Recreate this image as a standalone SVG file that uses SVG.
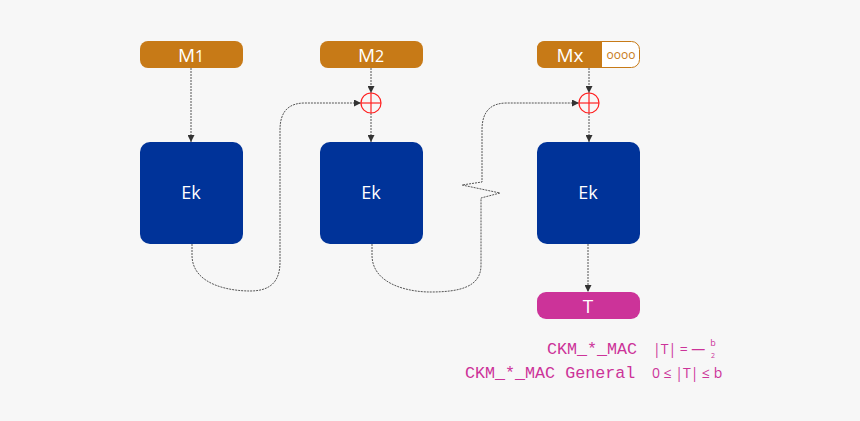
<svg xmlns="http://www.w3.org/2000/svg" width="860" height="421" viewBox="0 0 860 421">
<defs>
<marker id="ah" viewBox="0 0 10 10" refX="10" refY="5" markerWidth="7" markerHeight="7" orient="auto" markerUnits="userSpaceOnUse">
<path d="M0,0 L10,5 L0,10 z" fill="#333"/>
</marker>
<style>
.msg{fill:#C77A17}
.ek{fill:#003399}
.lbl{font-family:"Open Sans","Noto Sans",sans-serif;fill:#fff;text-anchor:middle}
.con{fill:none;stroke:#555;stroke-width:1;stroke-dasharray:2,1}
.xor{fill:none;stroke:#ff2020;stroke-width:1.2}
.mono{font-family:"Liberation Mono",monospace;font-size:16.7px;fill:#CC3399}
.math{font-family:"Open Sans","Noto Sans",sans-serif;fill:#CC3399}
</style>
</defs>
<rect width="860" height="421" fill="#f7f7f7"/>
<g id="connectors">
<line class="con" x1="191" y1="68" x2="191" y2="142" marker-end="url(#ah)"/>
<line class="con" x1="371" y1="68" x2="371" y2="93" marker-end="url(#ah)"/>
<line class="con" x1="371" y1="113" x2="371" y2="142" marker-end="url(#ah)"/>
<line class="con" x1="589" y1="68" x2="589" y2="93" marker-end="url(#ah)"/>
<line class="con" x1="589" y1="113" x2="589" y2="142" marker-end="url(#ah)"/>
<line class="con" x1="588" y1="244" x2="588" y2="292" marker-end="url(#ah)"/>
<path class="con" d="M192,244 L192,255 C192,285 230,291 250,291 C270,291 280,282 280,262 L280,130 C280,110 290,103 305,103 L361,103" marker-end="url(#ah)"/>
<path class="con" d="M372,244 L372,255 C372,285 410,292 430,292 C460,292 481,287 481,265 L481,198 L500,193 L462,185 L482,182 L482,130 C482,110 492,103 507,103 L579,103" marker-end="url(#ah)"/>
</g>
<g id="m1">
<rect class="msg" x="140" y="41" width="103" height="27" rx="8"/>
<text class="lbl" x="191" y="62" style="font-size:19px">M<tspan style="font-size:16px">1</tspan></text>
</g>
<g id="m2">
<rect class="msg" x="320" y="41" width="103" height="27" rx="8"/>
<text class="lbl" x="371" y="62" style="font-size:19px">M<tspan style="font-size:16px">2</tspan></text>
</g>
<g id="mx">
<rect x="537.5" y="41.5" width="102" height="26" rx="8" fill="#fff" stroke="#C77A17" stroke-width="1"/>
<path class="msg" d="M545,41 L602,41 L602,68 L545,68 Q537,68 537,60 L537,49 Q537,41 545,41 z"/>
<text class="lbl" x="570" y="62" style="font-size:19px">Mx</text>
<text x="621" y="59" font-family="'Open Sans','Noto Sans',sans-serif" font-size="12" fill="#C77A17" text-anchor="middle">oooo</text>
</g>
<g id="xor1">
<circle class="xor" cx="371" cy="103" r="10"/>
<line class="xor" x1="361" y1="103" x2="381" y2="103"/>
<line class="xor" x1="371" y1="93" x2="371" y2="113"/>
</g>
<g id="xor2">
<circle class="xor" cx="589" cy="103" r="10"/>
<line class="xor" x1="579" y1="103" x2="599" y2="103"/>
<line class="xor" x1="589" y1="93" x2="589" y2="113"/>
</g>
<g id="ek1">
<rect class="ek" x="140" y="142" width="103" height="102" rx="10"/>
<text class="lbl" x="191" y="199" style="font-size:18px">Ek</text>
</g>
<g id="ek2">
<rect class="ek" x="320" y="142" width="103" height="102" rx="10"/>
<text class="lbl" x="371" y="199" style="font-size:18px">Ek</text>
</g>
<g id="ek3">
<rect class="ek" x="537" y="142" width="103" height="102" rx="10"/>
<text class="lbl" x="588" y="199" style="font-size:18px">Ek</text>
</g>
<g id="t">
<rect x="537" y="292" width="103" height="27" rx="9" fill="#CC3399"/>
<text class="lbl" x="588" y="313" style="font-size:19px">T</text>
</g>
<g id="legend">
<text class="mono" x="547" y="354">CKM_*_MAC</text>
<text class="math" x="653" y="354" style="font-size:14px">|T| = —</text>
<text class="math" x="713" y="346" style="font-size:9px" text-anchor="middle">b</text>
<text class="math" x="713" y="358" style="font-size:7px" text-anchor="middle">2</text>
<text class="mono" x="465" y="378">CKM_*_MAC General</text>
<text class="math" x="652" y="378" style="font-size:14px">0 ≤ |T| ≤ b</text>
</g>
</svg>
